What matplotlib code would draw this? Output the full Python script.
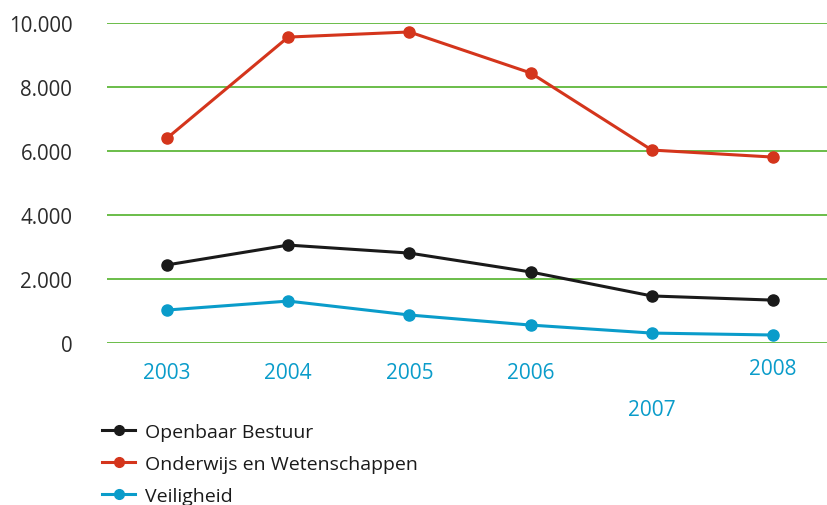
import numpy as np
import matplotlib
matplotlib.use("Agg")
import matplotlib.pyplot as plt
from matplotlib.lines import Line2D

plt.rcParams["font.family"] = ["Open Sans", "DejaVu Sans"]

# Data
years = [2003, 2004, 2005, 2006, 2007, 2008]
openbaar_bestuur = [2440, 3060, 2810, 2220, 1470, 1340]
onderwijs = [6400, 9560, 9720, 8440, 6030, 5810]
veiligheid = [1030, 1310, 875, 560, 310, 250]
series_labels = ["Openbaar Bestuur", "Onderwijs en Wetenschappen", "Veiligheid"]
series_colors = ["#1a1a1a", "#d4351c", "#0a9cca"]
y_ticks = [0, 2000, 4000, 6000, 8000, 10000]
y_ticklabels = ["0", "2.000", "4.000", "6.000", "8.000", "10.000"]

W, H = 827, 506
fig = plt.figure(figsize=(W / 100, H / 100), dpi=100)
ax = fig.add_axes([107 / W, (H - 344) / H, 1 - 107 / W, 320 / H])

for vals, lab, col in zip([openbaar_bestuur, onderwijs, veiligheid], series_labels, series_colors):
    ax.plot(years, vals, color=col, lw=2.2, marker="o", ms=8, label=lab, clip_on=False, zorder=3)

ax.set_ylim(0, 10000)
ax.set_xlim(2003 - 60 / 121.2, 2008 + 54 / 121.2)
ax.set_yticks(y_ticks)
ax.set_yticklabels(y_ticklabels)
ax.grid(axis="y", color="#52b12a", lw=1.2)
ax.set_axisbelow(True)
for s in ax.spines.values():
    s.set_visible(False)
ax.tick_params(axis="y", length=0, pad=25, labelsize=14.8, labelcolor="#2b2b2b")
ax.tick_params(axis="x", length=0, pad=14, labelsize=15, labelcolor="#0a9cca")
ax.set_xticks(years)
ax.set_xticklabels([str(y) for y in years])
# 2007 label sits lower, 2008 slightly higher
ticks = ax.xaxis.get_major_ticks()
ticks[4].set_pad(40)
ticks[5].set_pad(11)

handles = [Line2D([], [], color=c, lw=2.2, marker="o", ms=7) for c in series_colors]
fig.legend(handles, series_labels, loc="upper left", bbox_to_anchor=(102 / W, 1 - 424 / H),
           frameon=False, fontsize=14, handlelength=1.7, handletextpad=0.5,
           labelspacing=0.72, borderpad=0, borderaxespad=0, labelcolor="#1a1a1a")

fig.savefig("out.png", dpi=100)
